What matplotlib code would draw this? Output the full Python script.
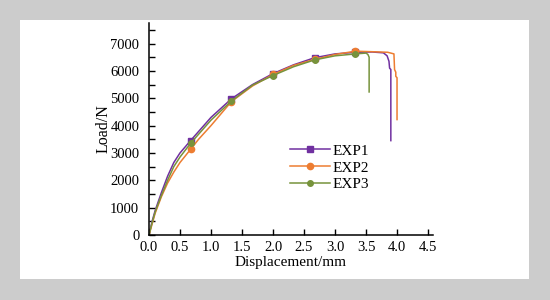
import matplotlib
matplotlib.use("Agg")
import matplotlib.pyplot as plt
from matplotlib.patches import Rectangle
from matplotlib.ticker import MultipleLocator

plt.rcParams['font.family'] = ['Liberation Serif', 'DejaVu Serif']

# EXP1
x1 = [0, 0.05, 0.1, 0.2, 0.3, 0.4, 0.5, 0.67, 1.0, 1.33, 1.67, 2.0, 2.33, 2.67, 3.0, 3.33,
      3.6, 3.78, 3.84, 3.87, 3.88, 3.9, 3.9]
y1 = [0, 500, 900, 1550, 2150, 2650, 3000, 3450, 4300, 4980, 5500, 5900, 6220, 6480, 6620, 6680,
      6690, 6660, 6550, 6350, 6100, 6050, 3450]
# EXP2
x2 = [0, 0.05, 0.1, 0.2, 0.3, 0.4, 0.5, 0.67, 0.8, 1.0, 1.33, 1.67, 2.0, 2.33, 2.67, 3.0, 3.33,
      3.6, 3.85, 3.95, 3.96, 3.98, 3.98, 4.0, 4.0]
y2 = [0, 400, 800, 1400, 1900, 2300, 2650, 3130, 3500, 4000, 4880, 5450, 5870, 6200, 6420, 6600, 6720,
      6700, 6680, 6620, 6050, 5950, 5800, 5750, 4220]
# EXP3
x3 = [0, 0.05, 0.1, 0.2, 0.3, 0.4, 0.5, 0.67, 1.0, 1.33, 1.67, 2.0, 2.33, 2.67, 3.0, 3.33,
      3.5, 3.53, 3.55, 3.55]
y3 = [0, 450, 850, 1450, 2000, 2500, 2850, 3350, 4200, 4900, 5480, 5830, 6150, 6400, 6550, 6620,
      6650, 6600, 6500, 5230]

mark_x = [0.67, 1.33, 2.0, 2.67, 3.33]

fig = plt.figure(figsize=(5.5, 3.0), dpi=100, facecolor='#cccccc')
fig.patches.append(Rectangle((20 / 550, 21 / 300), 509 / 550, 259 / 300,
                             transform=fig.transFigure, facecolor='white',
                             edgecolor='none', zorder=-10))
ax = fig.add_axes([149 / 550, 65 / 300, 284 / 550, 212 / 300])
ax.set_facecolor('none')

series = [(x1, y1, '#7030a0', 's', 4.5, 'EXP1'),
          (x2, y2, '#ed7d31', 'o', 4.5, 'EXP2'),
          (x3, y3, '#77933c', 'o', 4, 'EXP3')]
for xs, ys, c, m, ms, lab in series:
    idx = [xs.index(v) for v in mark_x]
    ax.plot(xs, ys, color=c, lw=1.1, marker=m, ms=ms, markevery=idx, label=lab)

ax.set_xlim(0, 4.58)
ax.set_ylim(0, 7750)
ax.xaxis.set_major_locator(MultipleLocator(0.5))
ax.yaxis.set_major_locator(MultipleLocator(1000))
ax.yaxis.set_minor_locator(MultipleLocator(500))
ax.xaxis.set_major_formatter(matplotlib.ticker.FormatStrFormatter('%.1f'))
ax.tick_params(direction='in', length=4, width=1, labelsize=10.5, pad=4)
ax.tick_params(axis='y', pad=7)
ax.tick_params(which='minor', direction='in', length=4, width=1)
for s in ['top', 'right']:
    ax.spines[s].set_visible(False)
for s in ['left', 'bottom']:
    ax.spines[s].set_linewidth(1.1)

ax.set_xlabel('Displacement/mm', fontsize=11, labelpad=2)
ax.set_ylabel('Load/N', fontsize=11.5, labelpad=-1)

ax.legend(loc='upper left', bbox_to_anchor=(0.47, 0.465), frameon=False, fontsize=11,
          handlelength=2.6, handletextpad=0.2, labelspacing=0.2, borderpad=0)

fig.savefig('out.png', dpi=100, facecolor=fig.get_facecolor())
